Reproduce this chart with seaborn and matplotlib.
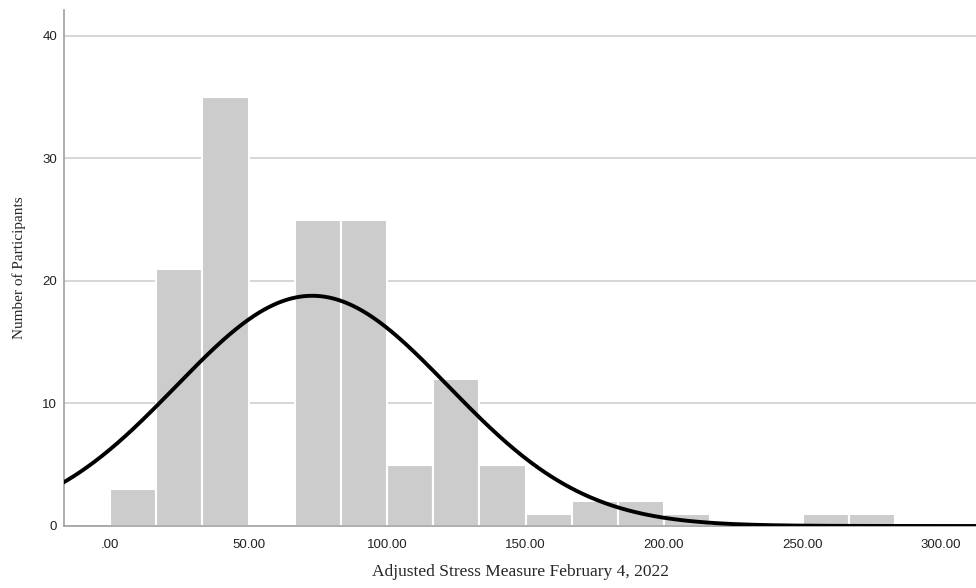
import numpy as np
import pandas as pd
import matplotlib
matplotlib.use("Agg")
import matplotlib.pyplot as plt
import seaborn as sns
from matplotlib.ticker import FuncFormatter

# histogram bins (width 50/3) and participant counts per bin
bin_edges = [i * 50 / 3 for i in range(19)]
counts = [3, 21, 35, 0, 25, 25, 5, 12, 5, 1, 2, 2, 1, 0, 0, 1, 1, 0]
# fitted normal curve parameters
fit_mean = 73.0
fit_sd = 49.2

bin_centers = [(a + b) / 2 for a, b in zip(bin_edges[:-1], bin_edges[1:])]
df = pd.DataFrame({"stress": bin_centers, "n": counts})
n_total = sum(counts)
bin_width = bin_edges[1] - bin_edges[0]

sns.set_style("white")
plt.rcParams["font.family"] = ["Liberation Sans", "DejaVu Sans"]

fig = plt.figure(figsize=(9.76, 5.88), dpi=100)
ax = fig.add_axes([64 / 976, 62 / 588, 912 / 976, 516 / 588])

sns.histplot(data=df, x="stress", weights="n", bins=bin_edges, ax=ax,
             color="#cccccc", alpha=1, edgecolor="white", linewidth=1.5, zorder=2)

xs = np.linspace(-20, 320, 600)
ys = n_total * bin_width * np.exp(-0.5 * ((xs - fit_mean) / fit_sd) ** 2) / (fit_sd * np.sqrt(2 * np.pi))
sns.lineplot(x=xs, y=ys, ax=ax, color="black", linewidth=2.8, zorder=3)

ax.set_xlim(-16.6, 312.6)
ax.set_ylim(0, 42.1)
ax.set_xticks([0, 50, 100, 150, 200, 250, 300])
ax.xaxis.set_major_formatter(FuncFormatter(lambda v, p: ".00" if v == 0 else f"{v:.2f}"))
ax.set_yticks([0, 10, 20, 30, 40])
ax.yaxis.grid(True, color="#cfcfcf", linewidth=1.2, zorder=0)
ax.set_axisbelow(True)
ax.tick_params(length=0, labelsize=9.5, colors="#222222", pad=9)
ax.tick_params(axis="y", pad=5)

for s in ["top", "right"]:
    ax.spines[s].set_visible(False)
for s in ["left", "bottom"]:
    ax.spines[s].set_color("#a0a0a0")
    ax.spines[s].set_linewidth(1.2)

ax.set_xlabel("Adjusted Stress Measure February 4, 2022", family="Liberation Serif",
              fontsize=12.5, labelpad=10)
ax.set_ylabel("Number of Participants", family="Liberation Serif", fontsize=11, labelpad=12)

fig.savefig("out.png", dpi=100)
